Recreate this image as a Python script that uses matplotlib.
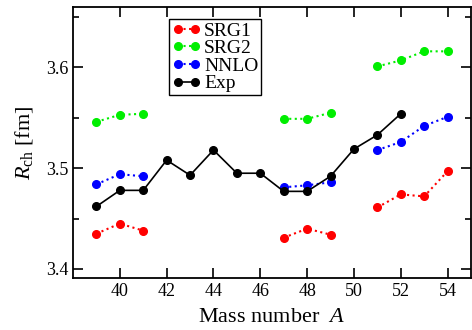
import numpy as np
import matplotlib
matplotlib.use("Agg")
import matplotlib.pyplot as plt
from matplotlib.ticker import MultipleLocator, FixedLocator

nan = np.nan
mass_A = [39, 40, 41, 42, 43, 44, 45, 46, 47, 48, 49, 50, 51, 52, 53, 54]
srg1 = [3.435, 3.445, 3.438, nan, nan, nan, nan, nan, 3.431, 3.440, 3.434, nan, 3.461, 3.474, 3.472, 3.497]
srg2 = [3.546, 3.553, 3.554, nan, nan, nan, nan, nan, 3.549, 3.549, 3.555, nan, 3.601, 3.607, 3.616, 3.616]
nnlo = [3.484, 3.494, 3.492, nan, nan, nan, nan, nan, 3.481, 3.483, 3.486, nan, 3.518, 3.526, 3.542, 3.551]
exp_A = [39, 40, 41, 42, 43, 44, 45, 46, 47, 48, 49, 50, 51, 52]
exp_r = [3.462, 3.478, 3.478, 3.508, 3.493, 3.518, 3.495, 3.495, 3.477, 3.477, 3.492, 3.519, 3.533, 3.554]
x_ticks = [40, 42, 44, 46, 48, 50, 52, 54]

plt.rcParams['font.family'] = ['Liberation Serif', 'DejaVu Serif']
plt.rcParams['mathtext.fontset'] = 'custom'
plt.rcParams['mathtext.rm'] = 'Liberation Serif'
plt.rcParams['mathtext.it'] = 'Liberation Serif:italic'

fig = plt.figure(figsize=(4.72, 3.30), dpi=100)
ax = fig.add_axes([73/472, 1-278/330, (471-73)/472, (278-7)/330])

ms = 5.5
ax.plot(mass_A, srg1, ':', color='#ff0000', marker='o', ms=ms, lw=1.5, label='SRG1')
ax.plot(mass_A, srg2, ':', color='#00ee00', marker='o', ms=ms, lw=1.5, label='SRG2')
ax.plot(mass_A, nnlo, ':', color='#0000ff', marker='o', ms=ms, lw=1.5, label='NNLO')
ax.plot(exp_A, exp_r, '-', color='black', marker='o', ms=ms, lw=1.2, label='Exp')

ax.set_xlim(38, 55)
ax.set_ylim(3.391, 3.66)
ax.xaxis.set_major_locator(FixedLocator(x_ticks))
ax.yaxis.set_major_locator(MultipleLocator(0.1))
ax.yaxis.set_minor_locator(MultipleLocator(0.05))
ax.tick_params(which='both', direction='in', top=True, right=True, labelsize=13, width=1.2)
ax.tick_params(which='major', length=7)
ax.tick_params(which='minor', length=4)
for s in ax.spines.values():
    s.set_linewidth(1.3)

ax.set_xlabel(r'Mass number  $A$', fontsize=16, labelpad=6)
ax.set_ylabel(r'$R_{\mathrm{ch}}$ [fm]', fontsize=16, labelpad=8)

leg = ax.legend(loc='upper left', bbox_to_anchor=((169-73)/398, 1-(19-7)/271), fontsize=14,
                numpoints=2, handlelength=1.5, handletextpad=0.15, borderpad=0.15,
                labelspacing=0.0, borderaxespad=0, fancybox=False, framealpha=1)
leg.get_frame().set_edgecolor('black')
leg.get_frame().set_linewidth(1.0)

fig.savefig('out.png', dpi=100)
